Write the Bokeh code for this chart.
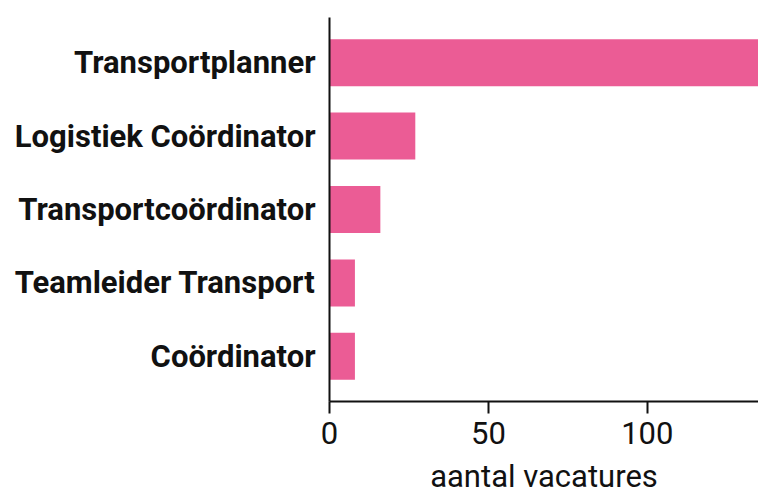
from bokeh.plotting import figure
from bokeh.models import FactorRange, Range1d, FixedTicker
from bokeh.embed import file_html
from bokeh.resources import INLINE

categories = ["Transportplanner", "Logistiek Coördinator", "Transportcoördinator",
              "Teamleider Transport", "Coördinator"]
values = [135, 27, 16, 8, 8]
x_ticks = [0, 50, 100]

factors = list(reversed(categories))
p = figure(width=758, height=497, output_backend="svg", toolbar_location=None,
           y_range=FactorRange(factors=factors, range_padding=0.046, range_padding_units="percent"),
           x_range=Range1d(0, 135))
p.min_border_left = 329
p.min_border_right = 0
p.min_border_top = 17
p.min_border_bottom = 93
p.outline_line_color = None
p.background_fill_color = "white"
p.border_fill_color = "white"

p.hbar(y=categories, right=values, left=0, height=0.64, color="#EB5C95", line_color=None)

FONT = "Roboto"
p.xgrid.visible = False
p.ygrid.visible = False

p.xaxis.ticker = FixedTicker(ticks=x_ticks)
p.xaxis.minor_tick_line_color = None
p.xaxis.major_tick_in = 0
p.xaxis.major_tick_out = 12
p.xaxis.major_tick_line_width = 2
p.xaxis.major_tick_line_color = "#111111"
p.xaxis.axis_line_width = 2
p.xaxis.axis_line_color = "#111111"
p.xaxis.major_label_text_font = FONT
p.xaxis.major_label_text_font_size = "31px"
p.xaxis.major_label_text_font_style = "normal"
p.xaxis.major_label_text_color = "#111111"
p.xaxis.major_label_standoff = 8
p.xaxis.axis_label = "aantal vacatures"
p.xaxis.axis_label_text_font = FONT
p.xaxis.axis_label_text_font_size = "31px"
p.xaxis.axis_label_text_font_style = "normal"
p.xaxis.axis_label_text_color = "#111111"
p.xaxis.axis_label_standoff = 11

p.yaxis.major_tick_line_color = None
p.yaxis.minor_tick_line_color = None
p.yaxis.major_tick_out = 0
p.yaxis.major_tick_in = 0
p.yaxis.axis_line_width = 2
p.yaxis.axis_line_color = "#111111"
p.yaxis.major_label_text_font = FONT
p.yaxis.major_label_text_font_size = "31px"
p.yaxis.major_label_text_font_style = "bold"
p.yaxis.major_label_text_color = "#111111"
p.yaxis.major_label_standoff = 14

open("out.html", "w").write(file_html(p, INLINE))
